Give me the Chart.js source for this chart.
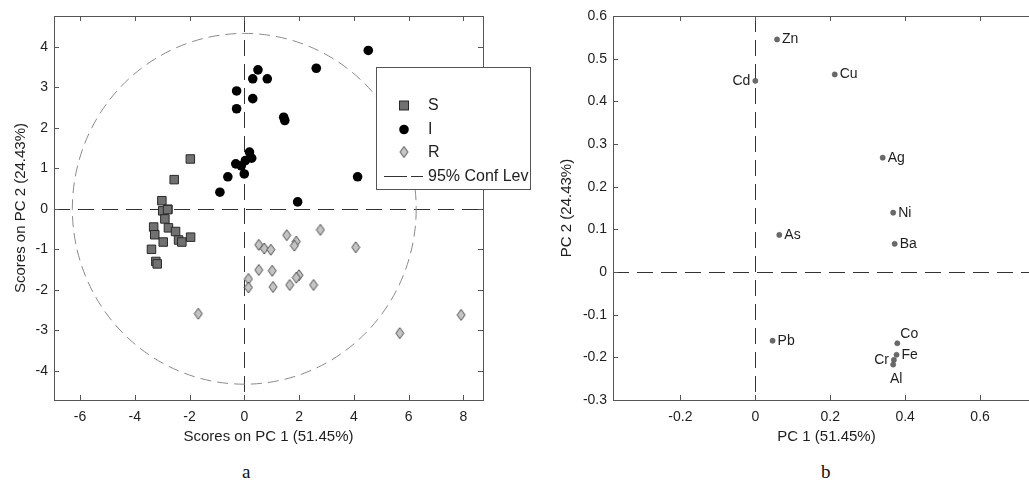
<!DOCTYPE html>
<html>
<head>
<meta charset="utf-8">
<script src="https://cdn.jsdelivr.net/npm/chart.js@4.4.1/dist/chart.umd.min.js"></script>
<style>
html, body { margin: 0; padding: 0; background: #fff; overflow: hidden; }
#page { width: 1029px; height: 484px; position: relative; overflow: hidden; }
#wrapA { position: absolute; left: 0; top: 0; width: 540px; height: 446px; }
#wrapB { position: absolute; left: 540px; top: 0; width: 505px; height: 446px; }
.cap { position: absolute; font-family: "Liberation Serif", "Times New Roman", serif; font-size: 19px; color: #111; }
</style>
</head>
<body>
<div id="page">
<div id="wrapA"><canvas id="scores"></canvas></div>
<div id="wrapB"><canvas id="loadings"></canvas></div>
<div class="cap" style="left:242px; top:461px;">a</div>
<div class="cap" style="left:821px; top:461px;">b</div>
</div>
<script>
// ---- plot a: scores ----
const sX = [-1.97, -2.56, -3.01, -2.79, -2.98, -2.90, -3.31, -3.27, -2.77, -2.51, -2.96, -2.40, -2.28, -1.96, -3.39, -3.23, -3.18, -2.80];
const sY = [1.23, 0.72, 0.20, -0.01, -0.05, -0.25, -0.45, -0.64, -0.47, -0.56, -0.82, -0.77, -0.82, -0.70, -1.00, -1.30, -1.36, -0.02];

const iX = [0.50, 0.31, 0.84, -0.28, 0.31, -0.28, 1.44, 1.48, 2.63, 4.53, 0.19, 0.27, 0.04, -0.31, -0.11, 0.00, -0.60, -0.89, 1.95, 4.14];
const iY = [3.43, 3.21, 3.21, 2.91, 2.72, 2.47, 2.26, 2.18, 3.47, 3.91, 1.40, 1.25, 1.19, 1.11, 1.06, 0.86, 0.79, 0.41, 0.17, 0.79];

const rX = [2.78, 1.55, 1.90, 1.83, 0.53, 0.73, 0.97, 0.53, 1.02, 0.15, 0.15, 2.00, 1.90, 1.05, 1.66, 2.53, -1.68, 4.07, 5.68, 7.92];
const rY = [-0.52, -0.65, -0.81, -0.91, -0.89, -0.98, -1.01, -1.51, -1.53, -1.73, -1.94, -1.64, -1.70, -1.93, -1.88, -1.88, -2.59, -0.95, -3.07, -2.62];

// 95% confidence ellipse half-axes (PC1, PC2)
const confA = 6.28;
const confB = 4.33;
const confLabel = "95% Conf Lev";

const xTicksA = [-6, -4, -2, 0, 2, 4, 6, 8];
const yTicksA = [-4, -3, -2, -1, 0, 1, 2, 3, 4];

// ---- plot b: loadings ----
const elements = ["Zn", "Cd", "Cu", "Ag", "Ni", "As", "Ba", "Pb", "Co", "Fe", "Cr", "Al"];
const pc1 = [0.058, 0.000, 0.212, 0.340, 0.368, 0.064, 0.372, 0.046, 0.379, 0.377, 0.370, 0.368];
const pc2 = [0.545, 0.448, 0.463, 0.268, 0.139, 0.087, 0.066, -0.161, -0.167, -0.194, -0.206, -0.217];
const labelSide = ["e", "w", "e", "e", "e", "e", "e", "e", "ne", "e", "w", "s"];

const xTicksB = [-0.2, 0, 0.2, 0.4, 0.6];
const yTicksB = [-0.3, -0.2, -0.1, 0, 0.1, 0.2, 0.3, 0.4, 0.5, 0.6];

const FONT = "'Liberation Sans', Arial, sans-serif";
const INK = "#1e1e1e";
const FRAME = "#555";

function diamondImg(w, h) {
    const c = document.createElement("canvas");
    c.width = w + 2;
    c.height = h + 2;
    const g = c.getContext("2d");
    g.beginPath();
    g.moveTo(c.width / 2, 1);
    g.lineTo(c.width - 1, c.height / 2);
    g.lineTo(c.width / 2, c.height - 1);
    g.lineTo(1, c.height / 2);
    g.closePath();
    g.fillStyle = "#c4c4c4";
    g.fill();
    g.strokeStyle = "#4a4a4a";
    g.lineWidth = 1;
    g.stroke();
    return c;
}
const diamond = diamondImg(8, 11);

// box with inward ticks, plus dashed zero lines
const framePlugin = {
    id: "frame",
    beforeDatasetsDraw(chart) {
        const { ctx, chartArea: a, scales: { x, y } } = chart;
        ctx.save();
        ctx.strokeStyle = "#333";
        ctx.lineWidth = 1;
        ctx.setLineDash([16, 8]);
        const x0 = Math.round(x.getPixelForValue(0)) + 0.5;
        const y0 = Math.round(y.getPixelForValue(0)) + 0.5;
        ctx.beginPath();
        ctx.moveTo(x0, a.top);
        ctx.lineTo(x0, a.bottom);
        ctx.moveTo(a.left, y0);
        ctx.lineTo(a.right, y0);
        ctx.stroke();
        ctx.restore();
    },
    afterDraw(chart) {
        const { ctx, chartArea: a, scales: { x, y } } = chart;
        ctx.save();
        ctx.strokeStyle = FRAME;
        ctx.lineWidth = 1;
        ctx.strokeRect(a.left + 0.5, a.top + 0.5, a.right - a.left, a.bottom - a.top);
        ctx.beginPath();
        x.ticks.forEach(t => {
            const px = Math.round(x.getPixelForValue(t.value)) + 0.5;
            ctx.moveTo(px, a.bottom);
            ctx.lineTo(px, a.bottom - 5);
            ctx.moveTo(px, a.top);
            ctx.lineTo(px, a.top + 5);
        });
        y.ticks.forEach(t => {
            const py = Math.round(y.getPixelForValue(t.value)) + 0.5;
            ctx.moveTo(a.left, py);
            ctx.lineTo(a.left + 5, py);
            ctx.moveTo(a.right, py);
            ctx.lineTo(a.right - 5, py);
        });
        ctx.stroke();
        ctx.restore();
    },
};

// confidence ellipse + legend box for plot a
const confPlugin = {
    id: "conf",
    beforeDatasetsDraw(chart) {
        const { ctx, chartArea: a, scales: { x, y } } = chart;
        const cx = x.getPixelForValue(0);
        const cy = y.getPixelForValue(0);
        ctx.save();
        ctx.beginPath();
        ctx.rect(a.left, a.top, a.right - a.left, a.bottom - a.top);
        ctx.clip();
        ctx.strokeStyle = "#8a8a8a";
        ctx.lineWidth = 1;
        ctx.setLineDash([11, 6]);
        ctx.beginPath();
        ctx.ellipse(cx, cy, x.getPixelForValue(confA) - cx, cy - y.getPixelForValue(confB), 0, 0, Math.PI * 2);
        ctx.stroke();
        ctx.restore();
    },
    afterDraw(chart) {
        const ctx = chart.ctx;
        const ds = chart.data.datasets;
        ctx.save();
        ctx.fillStyle = "#fff";
        ctx.fillRect(376, 67, 154, 122);
        ctx.strokeStyle = FRAME;
        ctx.lineWidth = 1;
        ctx.strokeRect(376.5, 67.5, 154, 122);

        const mx = 404;
        // S
        ctx.fillStyle = ds[0].backgroundColor;
        ctx.strokeStyle = ds[0].borderColor;
        ctx.fillRect(mx - 4.5, 101, 9, 9);
        ctx.strokeRect(mx - 4.5, 101, 9, 9);
        // I
        ctx.fillStyle = ds[1].backgroundColor;
        ctx.beginPath();
        ctx.arc(mx, 129.5, 4.8, 0, Math.PI * 2);
        ctx.fill();
        // R
        ctx.drawImage(diamond, mx - diamond.width / 2, 152 - diamond.height / 2);
        // conf line
        ctx.strokeStyle = "#333";
        ctx.setLineDash([23, 4]);
        ctx.beginPath();
        ctx.moveTo(384, 176.5);
        ctx.lineTo(423, 176.5);
        ctx.stroke();
        ctx.setLineDash([]);

        ctx.fillStyle = INK;
        ctx.font = "16px " + FONT;
        ctx.textBaseline = "middle";
        ctx.textAlign = "left";
        ctx.fillText(ds[0].label, 428, 106);
        ctx.fillText(ds[1].label, 428, 130);
        ctx.fillText(ds[2].label, 428, 153);
        ctx.fillText(confLabel, 428, 177);
        ctx.restore();
    },
};

// element names next to loading points
const namePlugin = {
    id: "names",
    afterDatasetsDraw(chart) {
        const ctx = chart.ctx;
        const meta = chart.getDatasetMeta(0);
        ctx.save();
        ctx.font = "14px " + FONT;
        ctx.fillStyle = INK;
        ctx.textBaseline = "middle";
        meta.data.forEach((pt, i) => {
            const side = labelSide[i];
            let tx = pt.x + 5, ty = pt.y, align = "left";
            if (side === "w") { tx = pt.x - 5; align = "right"; }
            if (side === "ne") { tx = pt.x + 3; ty = pt.y - 9; }
            if (side === "s") { tx = pt.x + 3; ty = pt.y + 15; align = "center"; }
            ctx.textAlign = align;
            ctx.fillText(elements[i], tx, ty);
        });
        ctx.restore();
    },
};

function axis(min, max, tickVals, title, fit, titlePad, tickPad) {
    return {
        type: "linear",
        min: min,
        max: max,
        border: { display: false },
        grid: { display: false, drawTicks: false },
        afterBuildTicks: s => { s.ticks = tickVals.map(v => ({ value: v })); },
        afterFit: fit,
        ticks: {
            padding: tickPad,
            color: INK,
            font: { family: FONT, size: 14 },
            callback: v => String(Math.round(v * 10) / 10),
        },
        title: {
            display: true,
            text: title,
            color: INK,
            font: { family: FONT, size: 15 },
            padding: titlePad,
        },
    };
}

const scoresChart = new Chart(document.getElementById("scores"), {
    type: "scatter",
    data: {
        datasets: [{
                label: "S",
                data: sX.map((v, i) => ({ x: v, y: sY[i] })),
                pointStyle: "rect",
                pointRadius: 6,
                pointHoverRadius: 6,
                backgroundColor: "#717171",
                borderColor: "#2a2a2a",
                borderWidth: 1,
            },
            {
                label: "I",
                data: iX.map((v, i) => ({ x: v, y: iY[i] })),
                pointStyle: "circle",
                pointRadius: 4.8,
                pointHoverRadius: 4.8,
                backgroundColor: "#000",
                borderColor: "#000",
                borderWidth: 0,
            },
            {
                label: "R",
                data: rX.map((v, i) => ({ x: v, y: rY[i] })),
                pointStyle: diamond,
                pointRadius: 5,
                pointHoverRadius: 5,
                backgroundColor: "#c4c4c4",
                borderColor: "#4a4a4a",
            },
        ],
    },
    options: {
        responsive: true,
        maintainAspectRatio: false,
        animation: false,
        events: [],
        layout: { padding: { top: 16, right: 57, bottom: 0, left: 0 } },
        plugins: { legend: { display: false }, tooltip: { enabled: false } },
        scales: {
            x: axis(-6.95, 8.72, xTicksA, "Scores on PC 1 (51.45%)", s => { s.height = 46; }, { top: 0, bottom: 0 }, 9),
            y: axis(-4.72, 4.76, yTicksA, "Scores on PC 2 (24.43%)", s => { s.width = 54; }, { top: 12, bottom: 0 }, 6),
        },
    },
    plugins: [framePlugin, confPlugin],
});

const loadingsChart = new Chart(document.getElementById("loadings"), {
    type: "scatter",
    data: {
        datasets: [{
            label: "loadings",
            data: pc1.map((v, i) => ({ x: v, y: pc2[i] })),
            pointStyle: "circle",
            pointRadius: 2.6,
            pointHoverRadius: 2.6,
            backgroundColor: "#6a6a6a",
            borderColor: "#555",
            borderWidth: 0.5,
        }],
    },
    options: {
        responsive: true,
        maintainAspectRatio: false,
        animation: false,
        events: [],
        layout: { padding: { top: 16, right: 5, bottom: 0, left: 0 } },
        plugins: { legend: { display: false }, tooltip: { enabled: false } },
        scales: {
            x: axis(-0.38, 0.76, xTicksB, "PC 1 (51.45%)", s => { s.height = 46; }, { top: 0, bottom: 0 }, 9),
            y: axis(-0.3, 0.6, yTicksB, "PC 2 (24.43%)", s => { s.width = 73; }, { top: 18, bottom: 0 }, 6),
        },
    },
    plugins: [framePlugin, namePlugin],
});
</script>
</body>
</html>
